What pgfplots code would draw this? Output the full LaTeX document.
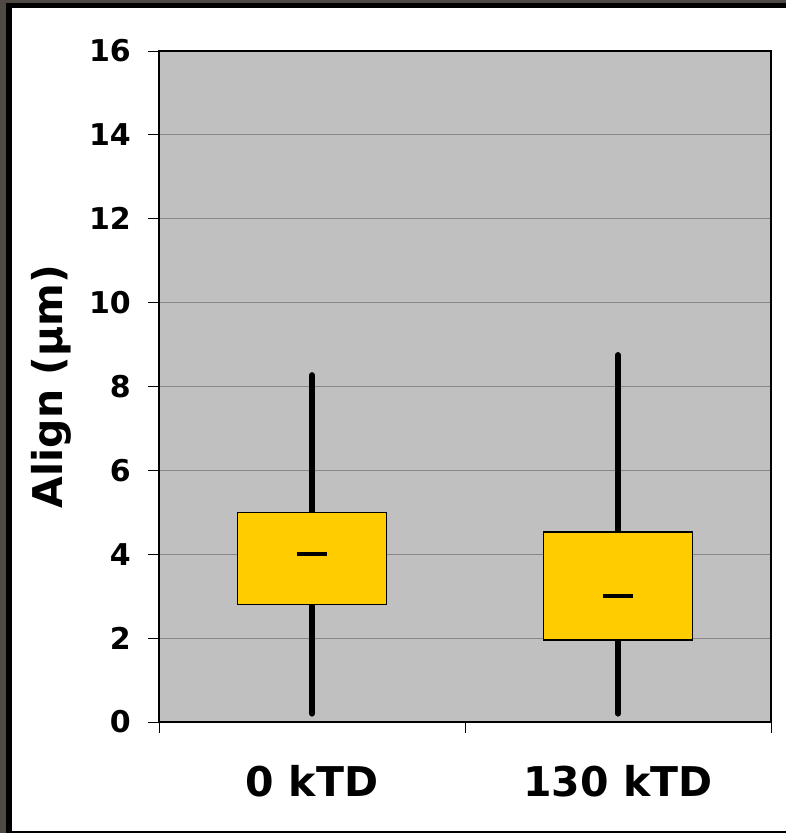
\documentclass[border=0pt]{standalone}
\usepackage{pgfplots}
\pgfplotsset{compat=1.18}
\usepackage{fontspec}
\setmainfont{DejaVu Sans}
\definecolor{framebg}{HTML}{4F4A43}
\definecolor{plotbg}{HTML}{C0C0C0}
\definecolor{boxfill}{HTML}{FFCC00}
\definecolor{gridc}{HTML}{878787}
\begin{document}
\begin{tikzpicture}[x=1bp,y=1bp]
\fill[framebg] (0,0) rectangle (786,833);
\fill[black] (6,0) rectangle (786,830);
\fill[white] (12,2) rectangle (786,825);
\begin{axis}[
 at={(159bp,111bp)}, anchor=south west,
 scale only axis, width=612bp, height=671bp,
 xmin=-0.5, xmax=1.5, ymin=0, ymax=16,
 axis background/.style={fill=plotbg},
 xtick={-0.5,0.5,1.5}, x tick label as interval, xticklabels={0 kTD,130 kTD},
 ytick={0,2,...,16},
 ymajorgrids, grid style={gridc, line width=1bp},
 tick align=outside, xtick pos=bottom, ytick pos=left,
 major tick length=11bp,
 tick style={black, line width=0.8bp},
 axis line style={black, line width=1.5bp},
 /pgf/number format/assume math mode=true,
 yticklabel style={font=\fontsize{30bp}{36bp}\selectfont\bfseries, inner sep=0pt, xshift=-17bp},
 xticklabel style={font=\fontsize{41bp}{48bp}\selectfont\bfseries, inner sep=0pt, yshift=-32bp},
 ylabel={Align (μm)},
 ylabel style={font=\fontsize{41bp}{48bp}\selectfont\bfseries, at={(axis description cs:-0.157,0.5)}, anchor=base},
]
% whiskers
\addplot[black, line width=6bp, line cap=round] coordinates {(0,0.2) (0,8.27)};
\addplot[black, line width=6bp, line cap=round] coordinates {(1,0.2) (1,8.75)};
% boxes
\addplot[draw=black, fill=boxfill, line width=1.5bp] coordinates {(-0.243,2.8) (0.243,2.8) (0.243,5.0) (-0.243,5.0)} -- cycle;
\addplot[draw=black, fill=boxfill, line width=1.5bp] coordinates {(0.757,1.95) (1.243,1.95) (1.243,4.53) (0.757,4.53)} -- cycle;
% medians
\addplot[black, line width=4bp] coordinates {(-0.05,4.0) (0.05,4.0)};
\addplot[black, line width=4bp] coordinates {(0.95,3.0) (1.05,3.0)};
\end{axis}
\end{tikzpicture}
\end{document}
